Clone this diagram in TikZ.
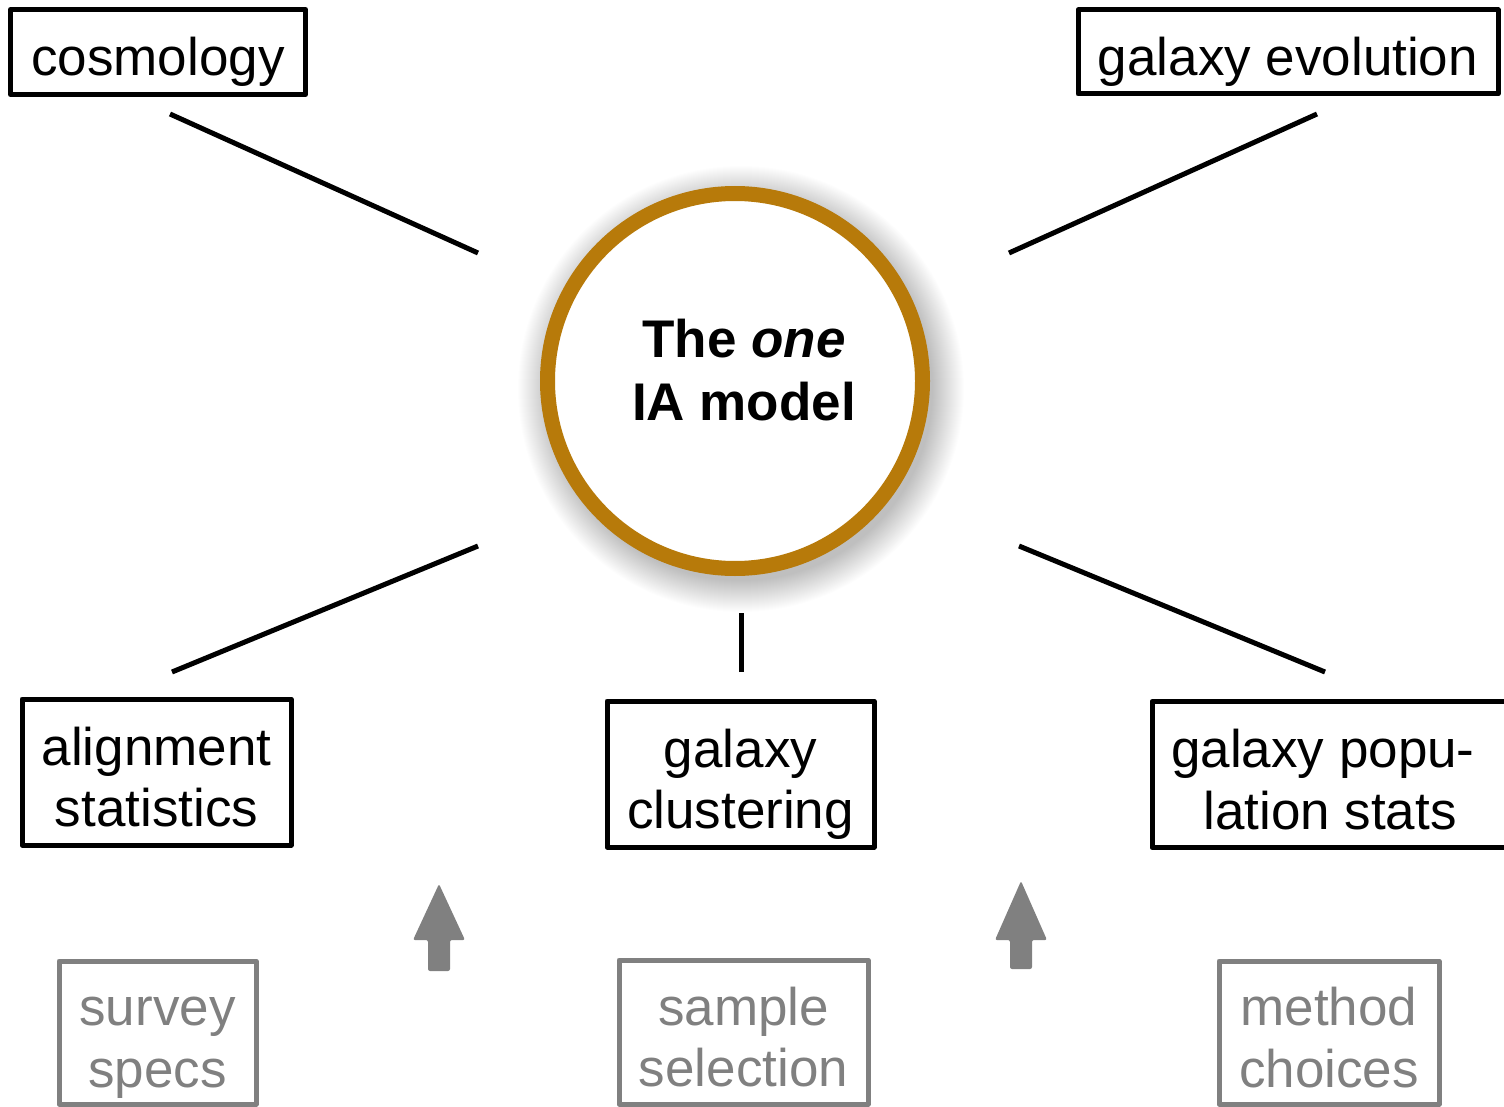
\documentclass[tikz,border=0pt]{standalone}
\usepackage{fontspec}
\setmainfont{Liberation Sans}
\usetikzlibrary{calc}
\definecolor{ringcol}{RGB}{183,122,10}
\definecolor{greycol}{RGB}{128,128,128}
\newcommand\lnstrut{\rule[-12pt]{0pt}{72pt}}
\protected\def\tightlines{\lineskiplimit=-200pt\relax}
\begin{document}
\begin{tikzpicture}[x=1pt,y=-1pt,
  boxfont/.style={font=\fontsize{53}{61.5}\selectfont\tightlines},
  bbox/.style={draw=black,line width=5pt,line join=round,inner sep=0pt,align=center,boxfont},
  gbox/.style={draw=greycol,line width=5pt,line join=round,inner sep=0pt,align=center,
    text=greycol,boxfont},
  txt/.style={inner sep=0pt,align=center,boxfont},
  conn/.style={line width=5pt},
  uparrow/.style={fill=greycol,rounded corners=2pt}]
\useasboundingbox (0,0) rectangle (1504,1107);
% shadow of the circle
\foreach \r in {0,1,...,31}{
  \fill[black,opacity=0.0075] (741,389) circle ({192+\r});
}
\node[circle,draw=ringcol,line width=15pt,fill=white,minimum size=375pt,inner sep=0pt] (ia) at (735,381) {};
\node[inner sep=0pt,align=center,font=\bfseries\fontsize{53}{63.5}\selectfont\tightlines] (iatext) at (744,364.75) {\lnstrut The \textit{one}\\\lnstrut IA model};
% boxes
\node[bbox,minimum width=295pt,minimum height=85pt] (cosmo) at (158,52) {\lnstrut cosmology};
\node[bbox,minimum width=420pt,minimum height=84pt] (galevo) at (1288,52) {\lnstrut galaxy evolution};
\node[bbox,minimum width=269pt,minimum height=146pt] (align) at (156.5,772) {\lnstrut alignment\\\lnstrut statistics};
\node[bbox,minimum width=267pt,minimum height=146pt] (clust) at (740.5,774) {\lnstrut galaxy\\\lnstrut clustering};
\node[bbox,minimum width=380pt,minimum height=146pt] (popbox) at (1342,774.5) {};
\node[txt] (pop) at (1323,774.5) {\lnstrut galaxy popu-\\\lnstrut\hspace*{14pt}lation stats};
\node[gbox,minimum width=197pt,minimum height=143pt] (survey) at (157.5,1032.5) {\lnstrut survey\\\lnstrut specs};
\node[gbox,minimum width=249pt,minimum height=144pt] (sample) at (743.5,1032) {\lnstrut sample\\\lnstrut selection};
\node[gbox,minimum width=220pt,minimum height=143pt] (method) at (1329,1032.5) {\lnstrut method\\\lnstrut choices};
% connector ends
\coordinate (c1a) at (170,114);  \coordinate (c1b) at (478,253);
\coordinate (c2a) at (1317,114); \coordinate (c2b) at (1009,253);
\coordinate (c3a) at (172,672);  \coordinate (c3b) at (478,546);
\coordinate (c4a) at (1325,672); \coordinate (c4b) at (1019,546);
\coordinate (c5a) at (741,672);  \coordinate (c5b) at (741,613);
\draw[conn] (c1a) -- (c1b);
\draw[conn] (c2a) -- (c2b);
\draw[conn] (c3a) -- (c3b);
\draw[conn] (c4a) -- (c4b);
\draw[conn] (c5a) -- (c5b);
% block arrows
\fill[uparrow] (439,884) -- (465,940) -- (450,940) -- (450,971) -- (428,971) -- (428,940) -- (413,940) -- cycle;
\fill[uparrow] (1021,881) -- (1047,940) -- (1032,940) -- (1032,969) -- (1010,969) -- (1010,940) -- (995,940) -- cycle;
\end{tikzpicture}
\end{document}
